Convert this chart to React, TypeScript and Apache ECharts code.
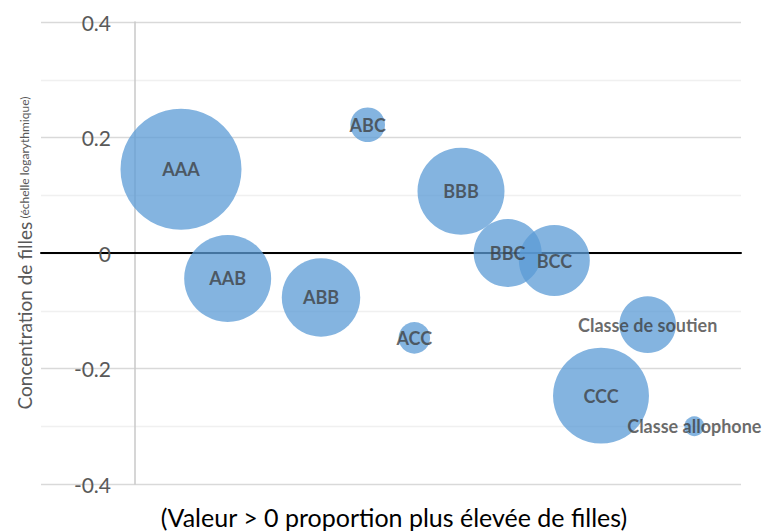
import React, { useEffect, useRef } from "react";
import * as echarts from "echarts";

const names = ["AAA", "AAB", "ABB", "ABC", "ACC", "BBB", "BBC", "BCC", "CCC", "Classe de soutien", "Classe allophone"];
const xValues = [1, 2, 4, 5, 6, 7, 8, 9, 10, 11, 12];
const yValues = [0.145, -0.044, -0.077, 0.222, -0.147, 0.107, 0.0, -0.013, -0.247, -0.124, -0.3];
const sizes = [100, 51.7, 42.0, 8.2, 6.8, 51.7, 31.6, 34.4, 62.9, 21.9, 2.7];
const yTicks = [-0.4, -0.2, 0, 0.2, 0.4];

const FONT = "Lato, 'Open Sans', sans-serif";

export default function App() {
  const ref = useRef<HTMLDivElement>(null);
  useEffect(() => {
    if (!ref.current) return;
    const chart = echarts.init(ref.current, null, { renderer: "svg" });
    const data = names.map((n, i) => ({ name: n, value: [xValues[i], yValues[i], sizes[i]] }));
    chart.setOption({
      animation: false,
      grid: { left: 41, right: 25, top: 22, bottom: 48, containLabel: false, outerBoundsMode: "none" },
      xAxis: [
        {
          type: "value",
          min: -2,
          max: 13,
          axisLine: { show: true, onZero: true, lineStyle: { color: "#000000", width: 2 } },
          axisTick: { show: false },
          axisLabel: { show: false },
          splitLine: { show: false },
        },
        {
          type: "value",
          position: "bottom",
          min: -2,
          max: 13,
          axisLine: { show: false, onZero: false },
          axisTick: { show: false },
          axisLabel: { show: false },
          splitLine: { show: false },
          name: "(Valeur > 0 proportion plus élevée de filles)",
          nameLocation: "middle",
          nameGap: 20,
          nameMoveOverlap: false,
          nameTextStyle: { color: "#000000", fontSize: 25, fontFamily: FONT, padding: [0, 0, 0, 6] },
        },
      ],
      yAxis: {
        type: "value",
        min: -0.4,
        max: 0.4,
        interval: 0.2,
        axisLine: { show: true, onZero: true, lineStyle: { color: "#c9c9c9", width: 1.5 } },
        axisTick: { show: false },
        axisLabel: {
          color: "#595959",
          fontSize: 21,
          fontFamily: FONT,
          margin: -70,
          align: "right",
          formatter: (v: number) => {
            const t = yTicks.find((k) => Math.abs(k - v) < 1e-9);
            return t === undefined ? "" : t === 0 ? "0" : String(t);
          },
        },
        splitLine: { show: true, lineStyle: { color: "#d9d9d9", width: 1.3 } },
        minorTick: { show: false, splitNumber: 2 },
        minorSplitLine: { show: true, lineStyle: { color: "#f0f0f0", width: 1.3 } },
        name: "{a|Concentration de filles} {b|(échelle logarythmique)}",
        nameLocation: "middle",
        nameRotate: 90,
        nameGap: 7,
        nameMoveOverlap: false,
        nameTextStyle: {
          rich: {
            a: { color: "#595959", fontSize: 19, fontFamily: FONT },
            b: { color: "#595959", fontSize: 12, fontFamily: FONT },
          },
        },
      },
      series: [
        {
          type: "scatter",
          data,
          symbolSize: (val: number[]) => 121 * Math.sqrt(val[2] / 100),
          itemStyle: { color: "#5B9BD5", opacity: 0.75 },
          label: {
            show: true,
            position: "inside",
            formatter: (p: any) => p.name,
            color: "#3a3a3a",
            fontSize: 18,
            fontWeight: "bold",
            fontFamily: FONT,
          },
          emphasis: { disabled: true },
        },
      ],
    });
    return () => chart.dispose();
  }, []);
  return <div ref={ref} style={{ width: 766, height: 532, position: "absolute", left: 0, top: 0 }} />;
}
